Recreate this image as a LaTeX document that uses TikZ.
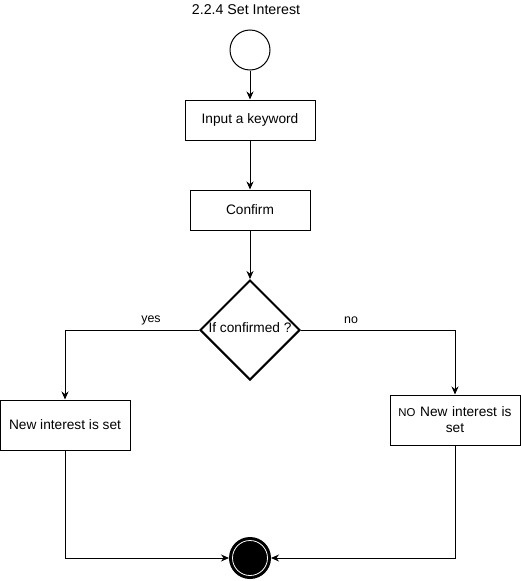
\documentclass[tikz,border=0pt]{standalone}
\usepackage{fontspec}
\setmainfont{Liberation Sans}
\usetikzlibrary{arrows.meta,shapes.geometric}
\tikzset{
	every node/.style={font=\fontsize{13.7}{16}\selectfont},
	actbox/.style={draw, line width=1pt, minimum width=130pt, minimum height=40pt, inner sep=2pt, align=center},
	startnode/.style={draw, circle, line width=1pt, minimum size=40pt, inner sep=0pt},
	endnode/.style={draw, circle, fill=black, line width=2pt, minimum size=40pt, inner sep=0pt},
	decision/.style={draw, diamond, line width=2pt, minimum width=100pt, minimum height=100pt, inner sep=0pt},
	flow/.style={line width=1pt, -{Stealth[length=8pt,width=7pt]}},
	branchlbl/.style={font=\fontsize{12.4}{14}\selectfont}
}

\begin{document}
\begin{tikzpicture}[x=1pt, y=-1pt]
			%%%%% START %%%%%
			\useasboundingbox (0, 0) rectangle (521, 581);
			
			\node[font=\fontsize{14.2}{17}\selectfont] (title) at (246, 10) {2.2.4 Set Interest};
			
			\node[startnode] (start) at (250, 50) {};
			\node[actbox] (input) at (250, 120) {Input a keyword};
			\node[actbox, minimum width=120pt] (confirm) at (250, 210) {Confirm};
			
			\node[decision] (check) at (250, 330) {};
			\node (checktext) at (250, 328) {If confirmed ?};
			
			\node[actbox, minimum height=50pt] (setbox) at (65, 425) {New interest is set};
			\node[actbox, minimum height=50pt, text width=124pt] (nosetbox) at (455, 420) {{\fontsize{11.4}{13}\selectfont NO} New interest is\\set};
			
			\node[endnode] (finish) at (250, 558) {};
			\draw[white, line width=0.8pt] (finish) circle (17.5);
			
			\draw[flow] (start) -- (input);
			\draw[flow] (input) -- (confirm);
			\draw[flow] (confirm) -- (check);
			
			\draw[flow] (check.west) -| (setbox.north);
			\node[branchlbl] (yeslbl) at (151, 320) {yes};
			\draw[flow] (check.east) -| (nosetbox.north);
			\node[branchlbl] (nolbl) at (351, 320) {no};
			
			\draw[flow] (setbox.south) |- (finish.west);
			\draw[flow] (nosetbox.south) |- (finish.east);
			%%%%% END %%%%%
		\end{tikzpicture}
\end{document}
